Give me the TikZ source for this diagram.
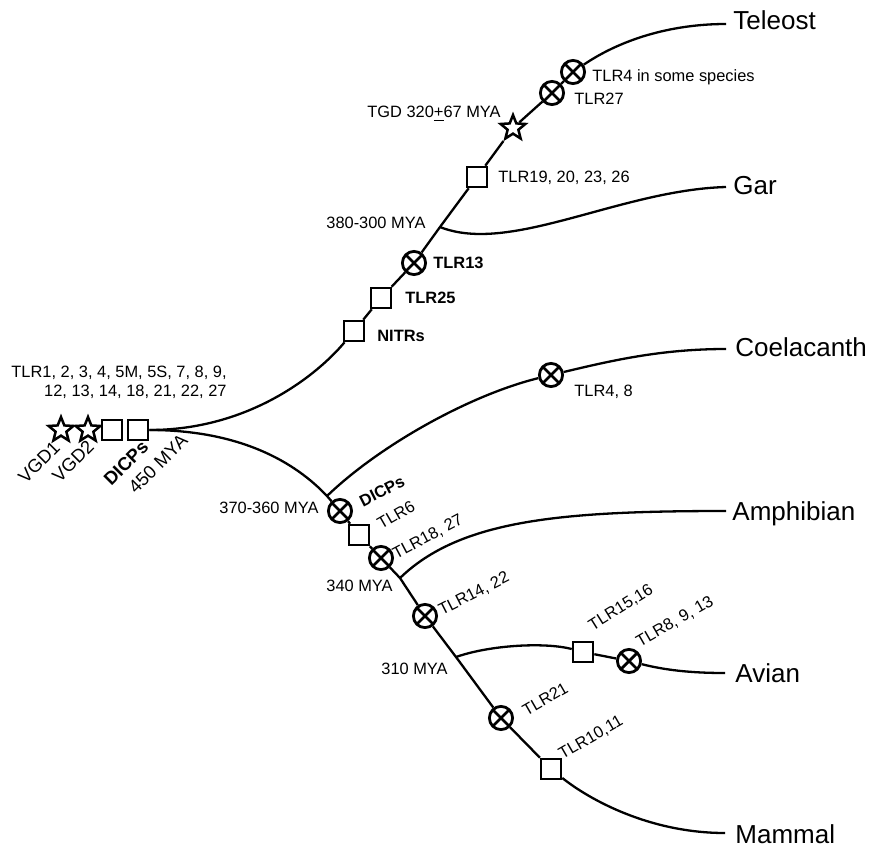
\documentclass[tikz,border=0pt]{standalone}
\usepackage{fontspec}
\setmainfont{Liberation Sans}
\usetikzlibrary{shapes.geometric}

\begin{document}
\begin{tikzpicture}[x=0.5pt,y=-0.5pt,
    branch/.style={line width=1.15pt},
    dup/.style={star,star points=5,star point ratio=2.3,draw,line width=1.25pt,fill=white,minimum size=13pt,inner sep=0pt},
    gain/.style={rectangle,draw,line width=1.3pt,fill=white,minimum size=10pt,inner sep=0pt},
    loss/.style={circle,draw,line width=1.4pt,fill=white,minimum size=11.6pt,inner sep=0pt,
        path picture={\draw[line width=1.4pt] (path picture bounding box.north west) -- (path picture bounding box.south east)
            (path picture bounding box.north east) -- (path picture bounding box.south west);}},
    lab/.style={font=\fontsize{8.2}{9.5}\selectfont,inner sep=0pt},
    rootlab/.style={font=\fontsize{9.2}{11}\selectfont,inner sep=0pt,rotate=45},
    taxon/.style={font=\fontsize{13}{15}\selectfont,anchor=base west,inner sep=0pt}]
    \useasboundingbox (0,0) rectangle (871,850);

    % Root: duplications and gains
    \node[dup] (vgda) at (61,430) {};
    \node[dup] (vgdb) at (88,430) {};
    \node[gain] (dicpa) at (112,430) {};
    \node[gain] (dicpb) at (138,430) {};

    % Ray-finned fish lineage
    \node[gain] (nitr) at (354,331) {};
    \node[gain] (tlr25) at (381,298) {};
    \node[loss] (tlr13) at (414,263) {};
    \coordinate (garj) at (440,227);
    \node[gain] (tlr19) at (477,177) {};
    \node[dup] (tgd) at (513,128) {};
    \node[loss] (tlr27) at (552,93) {};
    \node[loss] (tlr4t) at (573,72) {};
    \coordinate (teleost) at (726,24);
    \coordinate (gar) at (726,187);

    % Lobe-finned lineage
    \coordinate (coelj) at (327,496);
    \node[loss] (dicpl) at (340,511) {};
    \node[gain] (tlr6) at (359,535) {};
    \node[loss] (tlr18) at (381,558) {};
    \coordinate (amphj) at (400,578);
    \node[loss] (tlr14) at (425,616) {};
    \coordinate (avj) at (456,657);
    \node[loss] (tlr21) at (501,718) {};
    \node[gain] (tlr10) at (551,769) {};
    \node[loss] (coel4) at (551,375) {};
    \node[gain] (tlr15) at (583,652) {};
    \node[loss] (tlr8) at (629,661) {};
    \coordinate (coel) at (726,349);
    \coordinate (amph) at (726,511);
    \coordinate (avian) at (725,673);
    \coordinate (mammal) at (725,833);

    % Branches
    \draw[branch] (dicpb.east) .. controls (250,430) and (318,374) .. (nitr);
    \draw[branch] (nitr) -- (tlr25) -- (tlr13) -- (garj) -- (tlr19) -- (tgd) -- (tlr27) -- (tlr4t);
    \draw[branch] (tlr4t) .. controls (620,40) and (670,24) .. (teleost);
    \draw[branch] (garj) .. controls (510,255) and (620,190) .. (gar);
    \draw[branch] (dicpb.east) .. controls (240,430) and (295,462) .. (coelj) -- (dicpl) -- (tlr6) -- (tlr18) -- (amphj)
        -- (tlr14) -- (avj) -- (tlr21) -- (tlr10) .. controls (590,800) and (650,833) .. (mammal);
    \draw[branch] (coelj) .. controls (380,445) and (470,395) .. (coel4) .. controls (610,361) and (660,349) .. (coel);
    \draw[branch] (amphj) .. controls (460,520) and (560,511) .. (amph);
    \draw[branch] (avj) .. controls (490,645) and (545,642) .. (tlr15) -- (tlr8) .. controls (665,670) and (690,673) .. (avian);

    % Taxa
    \node[taxon] (teleostlab) at (733,30) {Teleost};
    \node[taxon] (garlab) at (733,194) {Gar};
    \node[taxon] (coellab) at (735,356) {Coelacanth};
    \node[taxon] (amphlab) at (732,520) {Amphibian};
    \node[taxon] (avianlab) at (735,682) {Avian};
    \node[taxon] (mammallab) at (735,843) {Mammal};

    % Event labels
    \node[lab,align=right,anchor=north east] (ancestral) at (227,366) {TLR1, 2, 3, 4, 5M, 5S, 7, 8, 9,\\12, 13, 14, 18, 21, 22, 27};
    \node[rootlab] (vgdalab) at (39,462) {VGD1};
    \node[rootlab] (vgdblab) at (73,461) {VGD2};
    \node[rootlab,font=\fontsize{9.2}{11}\selectfont\bfseries] (dicpalab) at (126,463) {DICPs};
    \node[rootlab] (rootage) at (158,464) {450 MYA};

    \node[lab,anchor=base west] (tlr4tlab) at (592,82) {TLR4 in some species};
    \node[lab,anchor=base west] (tlr27lab) at (574,105) {TLR27};
    \node[lab,anchor=base west] (tgdlab) at (367,118) {TGD 320\underline{+}67 MYA};
    \node[lab,anchor=base west] (tlr19lab) at (498,183) {TLR19, 20, 23, 26};
    \node[lab,anchor=base west] (garage) at (326,228) {380-300 MYA};
    \node[lab,anchor=base west,font=\fontsize{8.2}{9.5}\selectfont\bfseries] (tlr13lab) at (433,268) {TLR13};
    \node[lab,anchor=base west,font=\fontsize{8.2}{9.5}\selectfont\bfseries] (tlr25lab) at (405,303) {TLR25};
    \node[lab,anchor=base west,font=\fontsize{8.2}{9.5}\selectfont\bfseries] (nitrlab) at (377,341) {NITRs};
    \node[lab,anchor=base west] (coel4lab) at (574,396) {TLR4, 8};
    \node[lab,anchor=base west] (coelage) at (219,513) {370-360 MYA};
    \node[lab,anchor=base west] (amphage) at (326,591) {340 MYA};
    \node[lab,anchor=base west] (avage) at (381,674) {310 MYA};

    \node[lab,rotate=27,font=\fontsize{8.2}{9.5}\selectfont\bfseries] (dicpllab) at (382,491) {DICPs};
    \node[lab,rotate=30] (tlr6lab) at (396,515) {TLR6};
    \node[lab,rotate=28] (tlr18lab) at (428,537) {TLR18, 27};
    \node[lab,rotate=27] (tlr14lab) at (474,594) {TLR14, 22};
    \node[lab,rotate=30] (tlr21lab) at (545,699) {TLR21};
    \node[lab,rotate=30] (tlr10lab) at (591,738) {TLR10,11};
    \node[lab,rotate=32] (tlr15lab) at (621,608) {TLR15,16};
    \node[lab,rotate=30] (tlr8lab) at (675,622) {TLR8, 9, 13};
\end{tikzpicture}
\end{document}
